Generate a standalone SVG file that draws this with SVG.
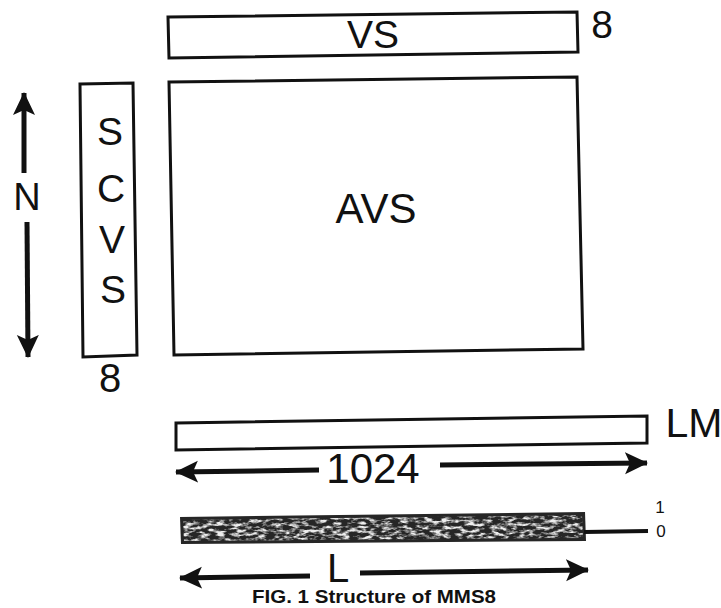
<svg xmlns="http://www.w3.org/2000/svg" width="721" height="608" viewBox="0 0 721 608">
  <style>
    .box { fill: #fff; stroke: #111; stroke-width: 3; stroke-linejoin: miter; }
    .lbl { font-family: "Liberation Sans", Arial, sans-serif; fill: #111; }
    .arr { stroke: #111; stroke-width: 5; fill: none; }
    .cap { font-family: "Liberation Sans", Arial, sans-serif; font-weight: bold; fill: #111; }
  </style>
  <defs>
    <marker id="head" markerUnits="userSpaceOnUse" markerWidth="24" markerHeight="24" viewBox="0 0 24 24" refX="22" refY="12" orient="auto">
      <path d="M0,1 L23,12 L0,23 L5,12 Z" fill="#111"/>
    </marker>
    <filter id="speckle" x="0" y="0" width="100%" height="100%">
      <feTurbulence type="fractalNoise" baseFrequency="0.12 0.3" numOctaves="3" seed="7" result="n"/>
      <feColorMatrix in="n" type="matrix" values="0 0 0 0 0.85  0 0 0 0 0.85  0 0 0 0 0.85  0 0 0 3.4 -1.45" result="w"/>
      <feComposite in="w" in2="SourceGraphic" operator="in"/>
    </filter>
  </defs>

  <g id="VS">
    <polygon class="box" points="168,17 577,12 578,52 169,58"/>
    <text class="lbl" x="373" y="48" font-size="39" text-anchor="middle">VS</text>
    <text class="lbl" x="602" y="38" font-size="39" text-anchor="middle">8</text>
  </g>

  <g id="SCVS">
    <polygon class="box" points="80,84 133,83 137,355 83,357"/>
    <text class="lbl" x="110" y="145" font-size="39" text-anchor="middle">S</text>
    <text class="lbl" x="111" y="202" font-size="39" text-anchor="middle">C</text>
    <text class="lbl" x="112" y="253" font-size="39" text-anchor="middle">V</text>
    <text class="lbl" x="113" y="303" font-size="39" text-anchor="middle">S</text>
    <text class="lbl" x="110" y="392" font-size="40" text-anchor="middle">8</text>
  </g>

  <g id="AVS">
    <polygon class="box" points="169,82 577,77 583,349 174,355"/>
    <text class="lbl" x="376" y="223" font-size="42" text-anchor="middle">AVS</text>
  </g>

  <g id="LM">
    <polygon class="box" points="176,423 647,416 647,443 176,450"/>
    <text class="lbl" x="694" y="437" font-size="41" text-anchor="middle">LM</text>
  </g>

  <g id="bitbar">
    <polygon points="180,517 585,512 586,541 181,544" fill="#262626"/>
    <polygon points="183,520 582,515 583,538 184,541" fill="#262626" filter="url(#speckle)"/>
    <line x1="584" y1="532" x2="648" y2="531" stroke="#111" stroke-width="4"/>
    <text class="lbl" x="660" y="513" font-size="17" text-anchor="middle">1</text>
    <text class="lbl" x="661" y="537" font-size="17" text-anchor="middle">0</text>
  </g>

  <g id="connectors">
    <line class="arr" x1="24" y1="173" x2="24" y2="93" marker-end="url(#head)"/>
    <line class="arr" x1="27" y1="222" x2="28" y2="357" marker-end="url(#head)"/>
    <line class="arr" x1="319" y1="470" x2="176" y2="472" marker-end="url(#head)"/>
    <line class="arr" x1="440" y1="465" x2="647" y2="463" marker-end="url(#head)"/>
    <line class="arr" x1="310" y1="576" x2="180" y2="578" marker-end="url(#head)"/>
    <line class="arr" x1="360" y1="573" x2="588" y2="570" marker-end="url(#head)"/>
  </g>

  <g id="labels">
    <text class="lbl" x="27" y="210" font-size="38" text-anchor="middle">N</text>
    <text class="lbl" x="373" y="483" font-size="42" text-anchor="middle">1024</text>
    <text class="lbl" x="338" y="582" font-size="40" text-anchor="middle">L</text>
    <text class="cap" x="252" y="603" font-size="19" textLength="244" lengthAdjust="spacingAndGlyphs">FIG. 1  Structure of MMS8</text>
  </g>
</svg>
